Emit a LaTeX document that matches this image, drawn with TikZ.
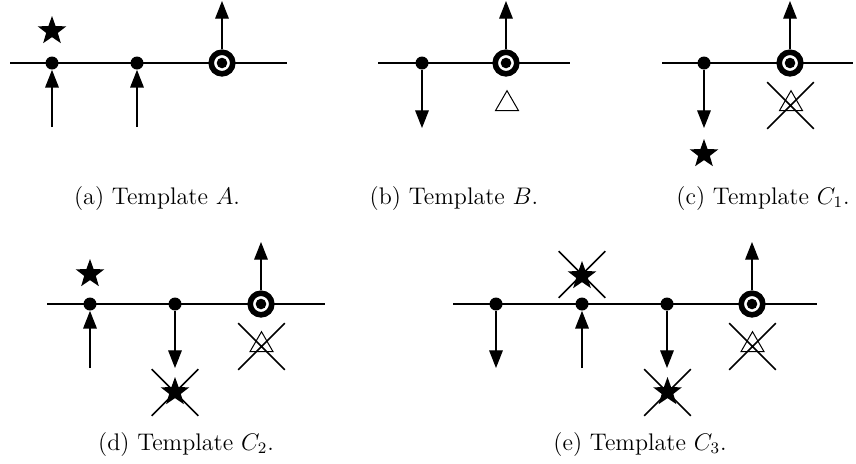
\documentclass[tikz,border=0pt]{standalone}
\usetikzlibrary{arrows.meta,shapes.geometric,shapes.misc}
\begin{document}
\begin{tikzpicture}[x=0.5pt,y=-0.5pt,
  wire/.style={line width=0.55pt},
  dot/.style={circle,fill,inner sep=0pt,minimum size=6.5pt},
  ring/.style={circle,draw,fill=white,line width=2.8pt,inner sep=0pt,minimum size=10.8pt,
    path picture={\fill[black] (path picture bounding box.center) circle (2.65pt);}},
  arr/.style={line width=0.55pt,-{Triangle[width=6.8pt,length=8.8pt]}},
  starnode/.style={star,star points=5,star point ratio=2.45,fill,inner sep=0pt,minimum size=15pt},
  tri/.style={regular polygon,regular polygon sides=3,draw,line width=0.5pt,inner sep=0pt,minimum size=13.3pt},
  xbox/.style={cross out,draw,line width=0.85pt,inner sep=0pt,minimum size=22.5pt},
  captext/.style={inner sep=0pt,font=\large}]
\useasboundingbox (0,0) rectangle (856,463);

% ---------- (a) ----------
\coordinate (al) at (10,63); \coordinate (ar) at (287,63);
\draw[wire] (al) -- (ar);
\node[dot] (a1) at (52,63) {};
\node[dot] (a2) at (137,63) {};
\node[ring] (a3) at (222,63) {};
\coordinate (a1s) at (52,127); \coordinate (a2s) at (137,127); \coordinate (a3t) at (222,1);
\draw[arr] (a1s) -- (a1);
\draw[arr] (a2s) -- (a2);
\draw[arr] (a3) -- (a3t);
\node[starnode] (astar) at (52,31) {};
\node[captext] (capa) at (157,198) {(a) Template $A$.};

% ---------- (b) ----------
\coordinate (bl) at (378,63); \coordinate (br) at (570,63);
\draw[wire] (bl) -- (br);
\node[dot] (b1) at (422,63) {};
\node[ring] (b2) at (506,63) {};
\coordinate (b1e) at (422,128); \coordinate (b2t) at (506,1);
\draw[arr] (b1) -- (b1e);
\draw[arr] (b2) -- (b2t);
\node[tri] (btri) at (507,104) {};
\node[captext] (capb) at (454,198) {(b) Template $B$.};

% ---------- (c) ----------
\coordinate (cl) at (662,63); \coordinate (cr) at (853,63);
\draw[wire] (cl) -- (cr);
\node[dot] (c1) at (704,63) {};
\node[ring] (c2) at (790,63) {};
\coordinate (c1e) at (704,128); \coordinate (c2t) at (790,1);
\draw[arr] (c1) -- (c1e);
\draw[arr] (c2) -- (c2t);
\node[starnode] (cstar) at (704,154) {};
\node[tri] (ctri) at (791,104) {};
\node[xbox] (cx) at (790.5,105.5) {};
\node[captext] (capc) at (763,198) {(c) Template $C_1$.};

% ---------- (d) ----------
\coordinate (dl) at (47,304); \coordinate (dr) at (325,304);
\draw[wire] (dl) -- (dr);
\node[dot] (d1) at (90,304) {};
\node[dot] (d2) at (175,304) {};
\node[ring] (d3) at (261,304) {};
\coordinate (d1s) at (90,368); \coordinate (d2e) at (175,368); \coordinate (d3t) at (261,242);
\draw[arr] (d1s) -- (d1);
\draw[arr] (d2) -- (d2e);
\draw[arr] (d3) -- (d3t);
\node[starnode] (dstar) at (90,274) {};
\node[starnode] (dstar2) at (175,392) {};
\node[xbox] (dx2) at (175,392.5) {};
\node[tri] (dtri) at (261.5,345) {};
\node[xbox] (dx3) at (261.5,346.5) {};
\node[captext] (capd) at (186,444) {(d) Template $C_2$.};

% ---------- (e) ----------
\coordinate (el) at (453,304); \coordinate (er) at (817,304);
\draw[wire] (el) -- (er);
\node[dot] (e1) at (496,304) {};
\node[dot] (e2) at (582,304) {};
\node[dot] (e3) at (667,304) {};
\node[ring] (e4) at (752,304) {};
\coordinate (e1e) at (496,368); \coordinate (e2s) at (582,368);
\coordinate (e3e) at (667,368); \coordinate (e4t) at (752,242);
\draw[arr] (e1) -- (e1e);
\draw[arr] (e2s) -- (e2);
\draw[arr] (e3) -- (e3e);
\draw[arr] (e4) -- (e4t);
\node[starnode] (estar1) at (582,276) {};
\node[xbox] (ex1) at (582,274.5) {};
\node[starnode] (estar2) at (667.5,392) {};
\node[xbox] (ex2) at (667.5,392.5) {};
\node[tri] (etri) at (752.5,345) {};
\node[xbox] (ex4) at (752.5,346.5) {};
\node[captext] (cape) at (640,444) {(e) Template $C_3$.};
\end{tikzpicture}
\end{document}
